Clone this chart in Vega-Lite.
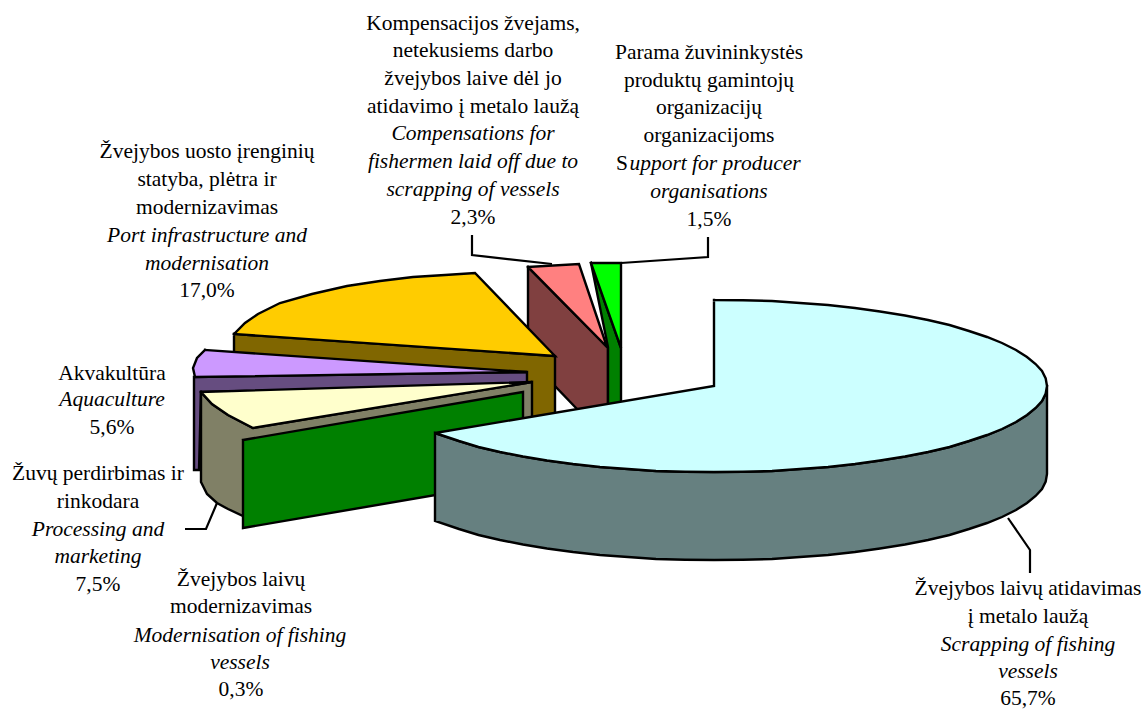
{"$schema":"https://vega.github.io/schema/vega-lite/v6.json","width":1145,"height":709,"padding":0,"autosize":{"type":"none"},"background":"white","view":{"stroke":null},
"layer":[
{"data":{"values":[
{"p":"maroon","i":0,"x":528,"y":267},{"p":"maroon","i":1,"x":608,"y":348},{"p":"maroon","i":2,"x":608,"y":405},{"p":"maroon","i":3,"x":578,"y":410},{"p":"maroon","i":4,"x":528,"y":358},{"p":"maroon","i":5,"x":528,"y":267},
{"p":"pink","i":0,"x":528,"y":267},{"p":"pink","i":1,"x":579,"y":264},{"p":"pink","i":2,"x":607,"y":347},{"p":"pink","i":3,"x":528,"y":267},
{"p":"dgreen","i":0,"x":591,"y":263},{"p":"dgreen","i":1,"x":621,"y":348},{"p":"dgreen","i":2,"x":621,"y":403},{"p":"dgreen","i":3,"x":608,"y":405},{"p":"dgreen","i":4,"x":608,"y":347},{"p":"dgreen","i":5,"x":591,"y":263},
{"p":"lime","i":0,"x":591,"y":263},{"p":"lime","i":1,"x":621,"y":263},{"p":"lime","i":2,"x":621,"y":348},{"p":"lime","i":3,"x":591,"y":263},
{"p":"brown","i":0,"x":234,"y":334},{"p":"brown","i":1,"x":555,"y":356},{"p":"brown","i":2,"x":555,"y":425},{"p":"brown","i":3,"x":234,"y":425},{"p":"brown","i":4,"x":234,"y":334},
{"p":"orange","i":0,"x":234,"y":334},{"p":"orange","i":1,"x":245,"y":323},{"p":"orange","i":2,"x":258,"y":314},{"p":"orange","i":3,"x":280,"y":303},{"p":"orange","i":4,"x":312,"y":294},{"p":"orange","i":5,"x":347,"y":286},{"p":"orange","i":6,"x":380,"y":281},{"p":"orange","i":7,"x":413,"y":277},{"p":"orange","i":8,"x":445,"y":275},{"p":"orange","i":9,"x":475,"y":273},{"p":"orange","i":10,"x":555,"y":356},{"p":"orange","i":11,"x":234,"y":334},
{"p":"dpurple","i":0,"x":194,"y":377},{"p":"dpurple","i":1,"x":527,"y":372},{"p":"dpurple","i":2,"x":527,"y":385},{"p":"dpurple","i":3,"x":201,"y":392},{"p":"dpurple","i":4,"x":199,"y":470},{"p":"dpurple","i":5,"x":194,"y":470},{"p":"dpurple","i":6,"x":194,"y":377},
{"p":"purple","i":0,"x":205,"y":350},{"p":"purple","i":1,"x":197,"y":358},{"p":"purple","i":2,"x":193,"y":368},{"p":"purple","i":3,"x":195,"y":377},{"p":"purple","i":4,"x":527,"y":372},{"p":"purple","i":5,"x":205,"y":350},
{"p":"gray","i":0,"x":201,"y":392},{"p":"gray","i":1,"x":212,"y":404},{"p":"gray","i":2,"x":228,"y":415},{"p":"gray","i":3,"x":253,"y":428},{"p":"gray","i":4,"x":532,"y":382},{"p":"gray","i":5,"x":532,"y":420},{"p":"gray","i":6,"x":253,"y":470},{"p":"gray","i":7,"x":243,"y":516},{"p":"gray","i":8,"x":228,"y":509},{"p":"gray","i":9,"x":217,"y":503},{"p":"gray","i":10,"x":207,"y":494},{"p":"gray","i":11,"x":201,"y":482},{"p":"gray","i":12,"x":201,"y":392},
{"p":"yellow","i":0,"x":201,"y":392},{"p":"yellow","i":1,"x":212,"y":404},{"p":"yellow","i":2,"x":228,"y":415},{"p":"yellow","i":3,"x":253,"y":428},{"p":"yellow","i":4,"x":532,"y":382},{"p":"yellow","i":5,"x":201,"y":392},
{"p":"green","i":0,"x":243,"y":440},{"p":"green","i":1,"x":523,"y":392},{"p":"green","i":2,"x":523,"y":480},{"p":"green","i":3,"x":243,"y":528},{"p":"green","i":4,"x":243,"y":440},
{"p":"teal","i":0,"x":1047,"y":386},{"p":"teal","i":1,"x":1045.7,"y":393.5},{"p":"teal","i":2,"x":1042,"y":401},{"p":"teal","i":3,"x":1035.6,"y":408},{"p":"teal","i":4,"x":1027,"y":415},{"p":"teal","i":5,"x":1016,"y":422},{"p":"teal","i":6,"x":1002,"y":429},{"p":"teal","i":7,"x":987,"y":435},{"p":"teal","i":8,"x":969,"y":441},{"p":"teal","i":9,"x":949.5,"y":447},{"p":"teal","i":10,"x":928,"y":452},{"p":"teal","i":11,"x":905,"y":456.5},{"p":"teal","i":12,"x":880,"y":460.5},{"p":"teal","i":13,"x":855,"y":464},{"p":"teal","i":14,"x":828,"y":467},{"p":"teal","i":15,"x":800,"y":469},{"p":"teal","i":16,"x":772,"y":471},{"p":"teal","i":17,"x":743,"y":471.7},{"p":"teal","i":18,"x":714,"y":472},{"p":"teal","i":19,"x":685,"y":471.7},{"p":"teal","i":20,"x":656,"y":471},{"p":"teal","i":21,"x":628,"y":469},{"p":"teal","i":22,"x":600,"y":467},{"p":"teal","i":23,"x":573,"y":464},{"p":"teal","i":24,"x":547,"y":460.5},{"p":"teal","i":25,"x":523,"y":456.5},{"p":"teal","i":26,"x":500,"y":452},{"p":"teal","i":27,"x":478.5,"y":447},{"p":"teal","i":28,"x":459,"y":441},{"p":"teal","i":29,"x":435,"y":433},
{"p":"teal","i":30,"x":435,"y":521},{"p":"teal","i":31,"x":459,"y":529},{"p":"teal","i":32,"x":478.5,"y":535},{"p":"teal","i":33,"x":500,"y":540},{"p":"teal","i":34,"x":523,"y":544.5},{"p":"teal","i":35,"x":547,"y":548.5},{"p":"teal","i":36,"x":573,"y":552},{"p":"teal","i":37,"x":600,"y":555},{"p":"teal","i":38,"x":628,"y":557},{"p":"teal","i":39,"x":656,"y":559},{"p":"teal","i":40,"x":685,"y":559.7},{"p":"teal","i":41,"x":714,"y":560},{"p":"teal","i":42,"x":743,"y":559.7},{"p":"teal","i":43,"x":772,"y":559},{"p":"teal","i":44,"x":800,"y":557},{"p":"teal","i":45,"x":828,"y":555},{"p":"teal","i":46,"x":855,"y":552},{"p":"teal","i":47,"x":880,"y":548.5},{"p":"teal","i":48,"x":905,"y":544.5},{"p":"teal","i":49,"x":928,"y":540},{"p":"teal","i":50,"x":949.5,"y":535},{"p":"teal","i":51,"x":969,"y":529},{"p":"teal","i":52,"x":987,"y":523},{"p":"teal","i":53,"x":1002,"y":517},{"p":"teal","i":54,"x":1016,"y":510},{"p":"teal","i":55,"x":1027,"y":503},{"p":"teal","i":56,"x":1035.6,"y":496},{"p":"teal","i":57,"x":1042,"y":489},{"p":"teal","i":58,"x":1045.7,"y":481.5},{"p":"teal","i":59,"x":1047,"y":474},{"p":"teal","i":60,"x":1047,"y":386},
{"p":"cyan","i":0,"x":714,"y":300},{"p":"cyan","i":1,"x":743,"y":300.3},{"p":"cyan","i":2,"x":772,"y":301},{"p":"cyan","i":3,"x":800,"y":303},{"p":"cyan","i":4,"x":828,"y":305},{"p":"cyan","i":5,"x":855,"y":308},{"p":"cyan","i":6,"x":880,"y":311.5},{"p":"cyan","i":7,"x":905,"y":315.5},{"p":"cyan","i":8,"x":928,"y":320},{"p":"cyan","i":9,"x":949.5,"y":325},{"p":"cyan","i":10,"x":969,"y":331},{"p":"cyan","i":11,"x":987,"y":337},{"p":"cyan","i":12,"x":1002,"y":343},{"p":"cyan","i":13,"x":1016,"y":350},{"p":"cyan","i":14,"x":1027,"y":357},{"p":"cyan","i":15,"x":1035.6,"y":364},{"p":"cyan","i":16,"x":1042,"y":371},{"p":"cyan","i":17,"x":1045.7,"y":378.5},{"p":"cyan","i":18,"x":1047,"y":386},{"p":"cyan","i":19,"x":1045.7,"y":393.5},{"p":"cyan","i":20,"x":1042,"y":401},{"p":"cyan","i":21,"x":1035.6,"y":408},{"p":"cyan","i":22,"x":1027,"y":415},{"p":"cyan","i":23,"x":1016,"y":422},{"p":"cyan","i":24,"x":1002,"y":429},{"p":"cyan","i":25,"x":987,"y":435},{"p":"cyan","i":26,"x":969,"y":441},{"p":"cyan","i":27,"x":949.5,"y":447},{"p":"cyan","i":28,"x":928,"y":452},{"p":"cyan","i":29,"x":905,"y":456.5},{"p":"cyan","i":30,"x":880,"y":460.5},{"p":"cyan","i":31,"x":855,"y":464},{"p":"cyan","i":32,"x":828,"y":467},{"p":"cyan","i":33,"x":800,"y":469},{"p":"cyan","i":34,"x":772,"y":471},{"p":"cyan","i":35,"x":743,"y":471.7},{"p":"cyan","i":36,"x":714,"y":472},{"p":"cyan","i":37,"x":685,"y":471.7},{"p":"cyan","i":38,"x":656,"y":471},{"p":"cyan","i":39,"x":628,"y":469},{"p":"cyan","i":40,"x":600,"y":467},{"p":"cyan","i":41,"x":573,"y":464},{"p":"cyan","i":42,"x":547,"y":460.5},{"p":"cyan","i":43,"x":523,"y":456.5},{"p":"cyan","i":44,"x":500,"y":452},{"p":"cyan","i":45,"x":478.5,"y":447},{"p":"cyan","i":46,"x":459,"y":441},{"p":"cyan","i":47,"x":435,"y":433},{"p":"cyan","i":48,"x":714,"y":386},{"p":"cyan","i":49,"x":714,"y":300}
]},
"mark":{"type":"line","stroke":"black","strokeWidth":2.4,"strokeJoin":"miter","strokeCap":"square"},
"encoding":{"x":{"field":"x","type":"quantitative","scale":{"domain":[0,1145]},"axis":null},"y":{"field":"y","type":"quantitative","scale":{"domain":[709,0]},"axis":null},"order":{"field":"i","type":"quantitative"},"detail":{"field":"p","type":"nominal"},
"fill":{"field":"p","type":"nominal","legend":null,"scale":{"domain":["maroon","pink","dgreen","lime","brown","orange","dpurple","purple","gray","yellow","green","teal","cyan"],"range":["#804040","#FF8080","#008000","#00FF00","#806600","#FFCC00","#664D80","#CC99FF","#808066","#FFFFCC","#008000","#668080","#CCFFFF"]}}}},
{"data":{"values":[
{"l":"a","i":0,"x":472,"y":235},{"l":"a","i":1,"x":472,"y":255},{"l":"a","i":2,"x":552,"y":264},
{"l":"b","i":0,"x":708,"y":237},{"l":"b","i":1,"x":708,"y":257},{"l":"b","i":2,"x":621,"y":263},
{"l":"c","i":0,"x":217,"y":503},{"l":"c","i":1,"x":206,"y":529},{"l":"c","i":2,"x":185,"y":529},
{"l":"d","i":0,"x":1008,"y":518},{"l":"d","i":1,"x":1030,"y":550},{"l":"d","i":2,"x":1030,"y":573}
]},
"mark":{"type":"line","color":"black","strokeWidth":2.2},
"encoding":{"x":{"field":"x","type":"quantitative","scale":{"domain":[0,1145]},"axis":null},"y":{"field":"y","type":"quantitative","scale":{"domain":[709,0]},"axis":null},"order":{"field":"i","type":"quantitative"},"detail":{"field":"l","type":"nominal"}}},
{"data":{"values":[
{"t":"Kompensacijos žvejams,","x":473,"y":24},{"t":"netekusiems darbo","x":473,"y":51},{"t":"žvejybos laive dėl jo","x":473,"y":79},{"t":"atidavimo į metalo laužą","x":473,"y":107},{"t":"2,3%","x":473,"y":218},
{"t":"Parama žuvininkystės","x":709,"y":53},{"t":"produktų gamintojų","x":709,"y":81},{"t":"organizacijų","x":709,"y":108},{"t":"organizacijoms","x":709,"y":136},{"t":"S","x":622,"y":164},{"t":"1,5%","x":709,"y":220},
{"t":"Žvejybos uosto įrenginių","x":207,"y":152},{"t":"statyba, plėtra ir","x":207,"y":180},{"t":"modernizavimas","x":207,"y":208},{"t":"17,0%","x":207,"y":291},
{"t":"Akvakultūra","x":112,"y":374},{"t":"5,6%","x":112,"y":428},
{"t":"Žuvų perdirbimas ir","x":98,"y":474},{"t":"rinkodara","x":98,"y":502},{"t":"7,5%","x":98,"y":585},
{"t":"Žvejybos laivų","x":241,"y":580},{"t":"modernizavimas","x":241,"y":607},{"t":"0,3%","x":241,"y":690},
{"t":"Žvejybos laivų atidavimas","x":1028,"y":589},{"t":"į metalo laužą","x":1028,"y":617},{"t":"65,7%","x":1028,"y":699}
]},
"mark":{"type":"text","font":"Liberation Serif","fontSize":21.5,"color":"black","align":"center","baseline":"middle"},
"encoding":{"x":{"field":"x","type":"quantitative","scale":{"domain":[0,1145]},"axis":null},"y":{"field":"y","type":"quantitative","scale":{"domain":[709,0]},"axis":null},"text":{"field":"t","type":"nominal"}}},
{"data":{"values":[
{"t":"Compensations for","x":473,"y":134},{"t":"fishermen laid off due to","x":473,"y":162},{"t":"scrapping of vessels","x":473,"y":190},
{"t":"upport for producer","x":715,"y":164},{"t":"organisations","x":709,"y":192},
{"t":"Port infrastructure and","x":207,"y":236},{"t":"modernisation","x":207,"y":264},
{"t":"Aquaculture","x":112,"y":400},
{"t":"Processing and","x":98,"y":530},{"t":"marketing","x":98,"y":557},
{"t":"Modernisation of fishing","x":240,"y":636},{"t":"vessels","x":240,"y":663},
{"t":"Scrapping of fishing","x":1028,"y":645},{"t":"vessels","x":1028,"y":672}
]},
"mark":{"type":"text","font":"Liberation Serif","fontSize":21.5,"fontStyle":"italic","color":"black","align":"center","baseline":"middle"},
"encoding":{"x":{"field":"x","type":"quantitative","scale":{"domain":[0,1145]},"axis":null},"y":{"field":"y","type":"quantitative","scale":{"domain":[709,0]},"axis":null},"text":{"field":"t","type":"nominal"}}}
]}
